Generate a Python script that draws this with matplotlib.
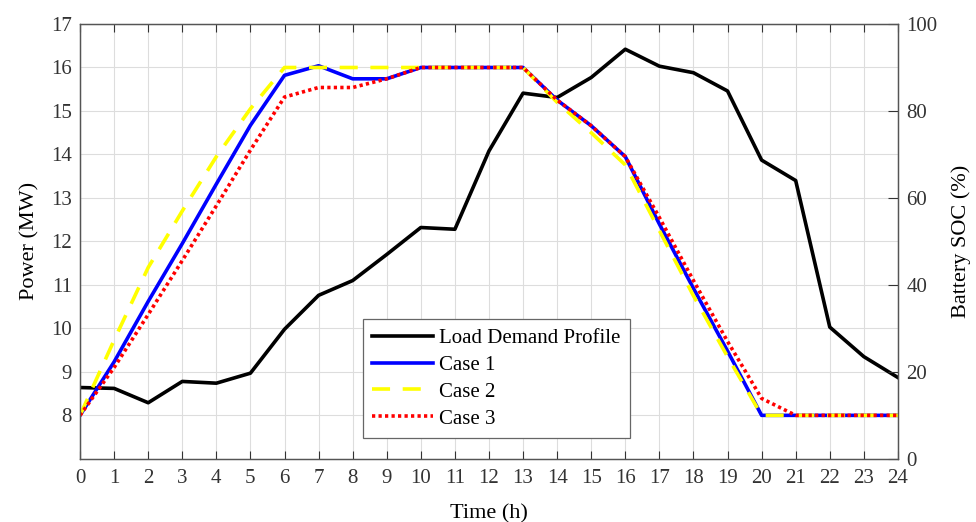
import matplotlib
matplotlib.use("Agg")
import matplotlib.pyplot as plt

plt.rcParams['font.family'] = ['Liberation Serif', 'DejaVu Serif']

# hourly data
hours = list(range(25))
load_mw = [8.64, 8.62, 8.29, 8.78, 8.74, 8.97, 9.98, 10.76, 11.10, 11.70, 12.32,
           12.28, 14.08, 15.41, 15.31, 15.77, 16.42, 16.03, 15.88, 15.46, 13.87,
           13.40, 10.03, 9.35, 8.87]
soc_case1 = [10, 22.3, 36.2, 49.5, 63.2, 76.7, 88.2, 90.4, 87.4, 87.4, 90,
             90, 90, 90, 82.5, 76.6, 69.5, 54.0, 39.2, 24.8, 10,
             10, 10, 10, 10]
soc_case2 = [10, 27.3, 44.0, 57.0, 69.5, 80.5, 90, 90, 90, 90, 90,
             90, 90, 90, 82.0, 75.0, 67.6, 52.5, 37.5, 23.5, 10,
             10, 10, 10, 10]
soc_case3 = [10, 21.0, 33.2, 45.6, 58.2, 71.0, 83.2, 85.4, 85.4, 87.4, 90,
             90, 90, 90, 82.5, 76.6, 69.5, 55.5, 41.0, 27.0, 13.9,
             10, 10, 10, 10]

fig = plt.figure(figsize=(9.76, 5.22), dpi=100)
ax1 = fig.add_axes([0.082, 0.121, 0.838, 0.833])
ax2 = ax1.twinx()

l0, = ax1.plot(hours, load_mw, color='black', lw=2.6, label='Load Demand Profile')
l1, = ax2.plot(hours, soc_case1, color='blue', lw=2.6, label='Case 1')
l2, = ax2.plot(hours, soc_case2, color='#ffff00', lw=2.6, ls=(0, (5, 3.5)), label='Case 2')
l3, = ax2.plot(hours, soc_case3, color='red', lw=2.6, ls=(0, (0.9, 0.9)), label='Case 3')

ax1.set_xlim(0, 24)
ax1.set_ylim(7, 17)
ax2.set_ylim(0, 100)
ax1.set_xticks(hours)
ax1.set_yticks(range(8, 18))
ax2.set_yticks(range(0, 101, 20))

ax1.grid(True, color='#dddddd', lw=0.8)
ax1.set_axisbelow(True)

tc = '#333333'
ax1.tick_params(axis='both', direction='in', length=6, width=0.8, colors=tc,
                labelsize=15, top=True, right=False, labelcolor=tc)
ax1.tick_params(axis='x', pad=7)
ax1.tick_params(axis='y', pad=6, length=0)
ax2.tick_params(axis='y', direction='in', length=7, width=0.8, colors=tc,
                labelsize=15, pad=6)

for ax in (ax1, ax2):
    for sp in ax.spines.values():
        sp.set_color('#555555')
        sp.set_linewidth(0.9)

ax1.set_xlabel('Time (h)', fontsize=16, labelpad=12)
ax1.set_ylabel('Power (MW)', fontsize=16, labelpad=8)
ax2.set_ylabel('Battery SOC (%)', fontsize=16, labelpad=10)

leg = ax2.legend(handles=[l0, l1, l2, l3], loc='lower left',
                 bbox_to_anchor=(0.346, 0.048), borderaxespad=0, fontsize=15,
                 handlelength=2.9, handletextpad=0.3, labelspacing=0.35,
                 borderpad=0.45, fancybox=False, framealpha=1, edgecolor='#666666')
leg.get_frame().set_linewidth(0.9)

fig.savefig('out.png', dpi=100)
